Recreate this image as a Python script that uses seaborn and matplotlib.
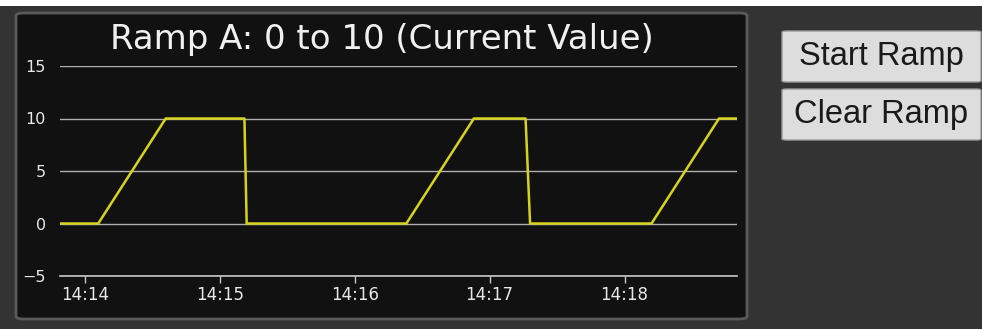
import matplotlib
matplotlib.use("Agg")
import matplotlib.pyplot as plt
import matplotlib.dates as mdates
from matplotlib.patches import FancyBboxPatch, Rectangle
import pandas as pd
import seaborn as sns

# Ramp A samples: time of day and current value
times = ["14:13:49", "14:14:06", "14:14:36", "14:15:11", "14:15:12",
         "14:16:23", "14:16:53", "14:17:16", "14:17:18", "14:18:12",
         "14:18:42", "14:18:50"]
values = [0, 0, 10, 10, 0, 0, 10, 10, 0, 0, 10, 10]

y_ticks = [-5, 0, 5, 10, 15]
x_ticks = ["14:14", "14:15", "14:16", "14:17", "14:18"]
x_start, x_end = "14:13:49", "14:18:50"

title = "Ramp A: 0 to 10 (Current Value)"
buttons = ["Start Ramp", "Clear Ramp"]

day = "2024-01-01 "
df = pd.DataFrame({"time": pd.to_datetime([day + t for t in times]),
                   "value": values})

sns.set_theme(style="dark")
plt.rcParams["font.family"] = ["DejaVu Sans"]

W, H = 982, 329
fig = plt.figure(figsize=(W / 100, H / 100), dpi=100, facecolor="#333333")

def px(x0, y0, x1, y1):
    return [x0 / W, 1 - y1 / H, (x1 - x0) / W, (y1 - y0) / H]

# white strip along the top edge
fig.patches.append(Rectangle((0, 1 - 6 / H), 1, 6 / H, transform=fig.transFigure,
                             facecolor="white", edgecolor="none", zorder=0))

# chart panel
fig.patches.append(FancyBboxPatch((16 / W, 1 - 319 / H), (747 - 16) / W, (319 - 13) / H,
                                  boxstyle="round,pad=0,rounding_size=0.008",
                                  transform=fig.transFigure, facecolor="#111111",
                                  edgecolor="#5a5a5a", linewidth=2, zorder=1))

ax = fig.add_axes(px(60, 66, 737, 276))
ax.set_facecolor("#111111")
ax.set_zorder(2)

sns.lineplot(data=df, x="time", y="value", ax=ax, color="#d6d31f",
             linewidth=1.8, zorder=3)

ax.set_xlim(pd.Timestamp(day + x_start), pd.Timestamp(day + x_end))
ax.set_ylim(y_ticks[0], y_ticks[-1])
ax.set_yticks(y_ticks)
ax.set_yticklabels(["\u22125" if v < 0 else str(v) for v in y_ticks])
ax.set_xticks([pd.Timestamp(day + t) for t in x_ticks])
ax.xaxis.set_major_formatter(mdates.DateFormatter("%H:%M"))
ax.set_xlabel("")
ax.set_ylabel("")

ax.grid(axis="y", color="#b0b0b0", linewidth=1)
ax.grid(axis="x", visible=False)
for s in ["top", "right", "left"]:
    ax.spines[s].set_visible(False)
ax.spines["bottom"].set_color("#c8c8c8")
ax.spines["bottom"].set_linewidth(1.2)

ax.tick_params(axis="y", length=0, pad=10, labelsize=11.5, labelcolor="#e8e8e8")
ax.tick_params(axis="x", bottom=True, length=5, width=1, color="#c8c8c8",
               direction="out", pad=2, labelsize=12, labelcolor="#e8e8e8")

fig.text(382 / W, 1 - 40 / H, title, ha="center", va="center",
         fontsize=24.5, color="#f0f0f0")

# control buttons
for i, label in enumerate(buttons):
    y0 = 31 + i * 58
    y1 = y0 + 51
    fig.patches.append(FancyBboxPatch((782 / W, 1 - y1 / H), (981 - 782) / W, (y1 - y0) / H,
                                      boxstyle="round,pad=0,rounding_size=0.004",
                                      transform=fig.transFigure, facecolor="#dddddd",
                                      edgecolor="#9a9a9a", linewidth=1, zorder=1))
    fig.text(881 / W, 1 - (y0 + y1) / 2 / H, label, ha="center", va="center",
             fontsize=23.5, color="#1a1a1a", family="Liberation Sans")

fig.savefig("out.png", dpi=100, facecolor=fig.get_facecolor())
